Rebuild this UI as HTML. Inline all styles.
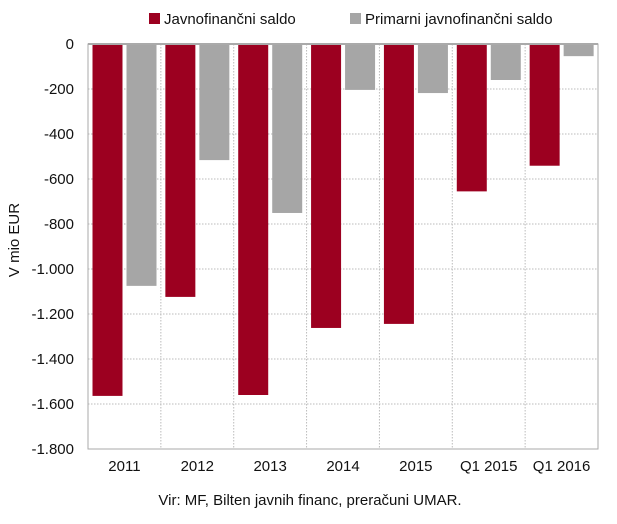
<!DOCTYPE html>
<html><head><meta charset="utf-8"><style>
body{margin:0;background:#fff;font-family:"Liberation Sans",sans-serif;}
svg text{font-family:"Liberation Sans",sans-serif;fill:#111;}
</style></head><body>
<svg width="617" height="519">
<g id="grid"></g><g id="bars"></g><g id="axes"></g>
<g>
<rect x="149" y="13" width="11" height="11" fill="#9c0020"/>
<text x="164" y="24" font-size="15">Javnofinančni saldo</text>
<rect x="350" y="13" width="11" height="11" fill="#a6a6a6"/>
<text x="365" y="24" font-size="15">Primarni javnofinančni saldo</text>
</g>
<text transform="translate(19,240) rotate(-90)" text-anchor="middle" font-size="15">V mio EUR</text>
<text x="310" y="505" text-anchor="middle" font-size="15">Vir: MF, Bilten javnih financ, preračuni UMAR.</text>
</svg>
<script>
const categories=["2011","2012","2013","2014","2015","Q1 2015","Q1 2016"];
const javnoValues=[-1564,-1124,-1560,-1262,-1244,-655,-541];
const primarniValues=[-1075,-516,-751,-204,-218,-160,-54];
const yTicks=[0,-200,-400,-600,-800,-1000,-1200,-1400,-1600,-1800];
const yTickLabels=["0","-200","-400","-600","-800","-1.000","-1.200","-1.400","-1.600","-1.800"];
const NS="http://www.w3.org/2000/svg";
const L=88,R=598,T=44,B=449,yMin=-1800;
const y=v=>T+(v/yMin)*(B-T);
const bw=(R-L)/categories.length;
const x=i=>L+i*bw;
function mk(tag,attrs,parent){const e=document.createElementNS(NS,tag);for(const k in attrs)e.setAttribute(k,attrs[k]);document.getElementById(parent).appendChild(e);return e;}
yTicks.forEach((t,i)=>{
 if(i>0){const g=mk('line',{x1:L,x2:R,y1:y(t),y2:y(t),stroke:'#bbb','stroke-dasharray':'1.5,1.5'},'grid');
 
 }
 const tx=mk('text',{x:L-14,y:y(t)+5,'text-anchor':'end','font-size':'15'},'axes');tx.textContent=yTickLabels[i];
 
 
});
categories.forEach((c,i)=>{
 if(i>0){const g=mk('line',{x1:x(i),x2:x(i),y1:T,y2:B,stroke:'#bbb','stroke-dasharray':'1.5,1.5'},'grid');
 
 }
 const v1=javnoValues[i],v2=primarniValues[i];
 const r1=mk('rect',{x:x(i)+4.5,y:T,width:30,height:y(v1)-T,fill:'#9c0020'},'bars');
 
 
 const r2=mk('rect',{x:x(i)+38.5,y:T,width:30,height:y(v2)-T,fill:'#a6a6a6'},'bars');
 
 
 const tx=mk('text',{x:x(i)+bw/2,y:B+22,'text-anchor':'middle','font-size':'15'},'axes');tx.textContent=c;
 
 
});
const fr=mk('rect',{x:L,y:T,width:R-L,height:B-T,fill:'none',stroke:'#aaa','stroke-width':1},'axes');


const z=mk('line',{x1:L,x2:R,y1:T,y2:T,stroke:'#aaa','stroke-width':2},'axes');


</script>
</body></html>
